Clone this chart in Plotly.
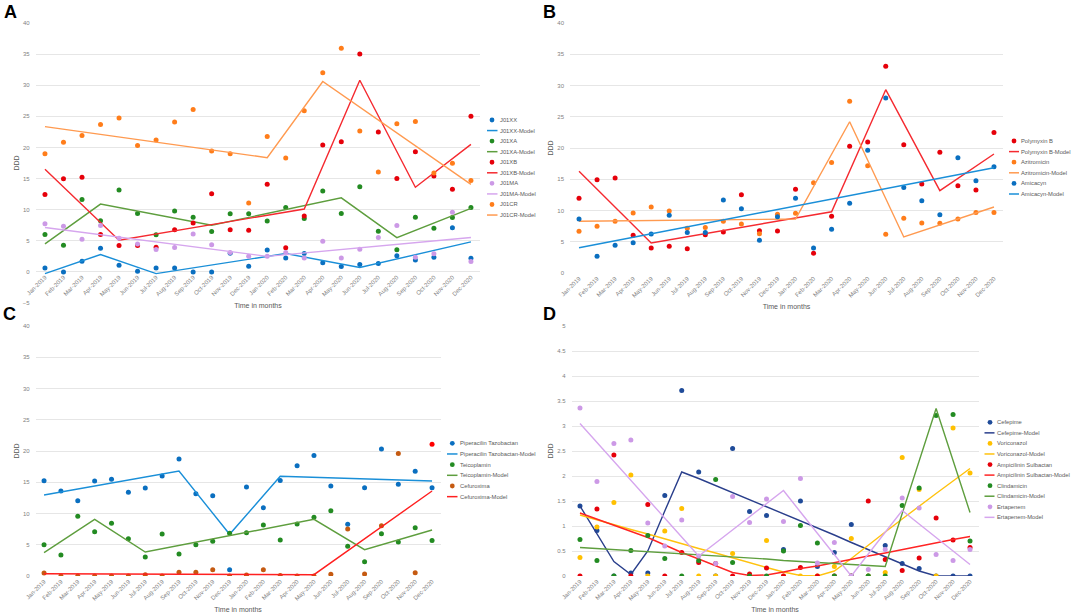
import plotly.graph_objects as go

W, H = 1072, 615
FONT = "Liberation Sans, Arial, sans-serif"

months = ["Jan-2019", "Feb-2019", "Mar-2019", "Apr-2019", "May-2019", "Jun-2019",
          "Jul-2019", "Aug-2019", "Sep-2019", "Oct-2019", "Nov-2019", "Dec-2019",
          "Jan-2020", "Feb-2020", "Mar-2020", "Apr-2020", "May-2020", "Jun-2020",
          "Jul-2020", "Aug-2020", "Sep-2020", "Oct-2020", "Nov-2020", "Dec-2020"]

# ---------------- Panel A ----------------
a_j01xx = [0.64, 0, 1.7, 3.8, 1.07, 0.1, 0.64, 0.64, 0, 0, 3.0, 0.9,
           3.5, 2.25, 2.95, 1.45, 0.86, 1.18, 1.34, 2.6, 1.93, 2.36, 7.1, 2.2]
a_j01xx_model_x = ["Jan-2019", "Apr-2019", "Jul-2019", "Feb-2020", "Jun-2020", "Dec-2020"]
a_j01xx_model_y = [-0.27, 2.8, -0.27, 2.95, 0.7, 4.83]

a_j01xa = [6.0, 4.3, 11.65, 8.2, 13.15, 9.4, 5.96, 9.8, 8.8, 6.5, 9.34, 9.34,
           8.16, 10.36, 8.6, 13.0, 9.4, 13.7, 6.55, 3.54, 8.8, 7.03, 8.75, 10.36]
a_j01xa_model_x = ["Jan-2019", "Apr-2019", "Oct-2019", "May-2020", "Aug-2020", "Dec-2020"]
a_j01xa_model_y = [4.5, 10.9, 7.5, 11.9, 5.5, 10.2]

a_j01xb = [12.45, 14.98, 15.2, 6.0, 4.24, 4.24, 3.97, 6.76, 7.84, 12.56, 6.76, 6.7,
           14.1, 3.86, 9.0, 20.4, 20.9, 35.0, 22.5, 15.0, 19.3, 15.4, 13.3, 25.0]
a_j01xb_model_x = ["Jan-2019", "May-2019", "Mar-2020", "Jun-2020", "Sep-2020", "Dec-2020"]
a_j01xb_model_y = [16.5, 5.1, 10.1, 30.8, 13.6, 20.5]

a_j01ma = [7.73, 7.35, 5.26, 7.46, 5.42, 4.5, 3.6, 3.9, 6.07, 4.35, 3.1, 2.5,
           2.5, 3.1, 2.25, 4.94, 2.25, 3.65, 5.53, 7.46, 2.36, 2.9, 9.6, 1.66]
a_j01ma_model_x = ["Jan-2019", "Jan-2020", "Dec-2020"]
a_j01ma_model_y = [7.14, 2.5, 5.53]

a_j01cr = [19.0, 20.83, 21.9, 23.7, 24.74, 20.3, 21.2, 24.1, 26.1, 19.43, 19.0, 11.06,
           21.74, 18.3, 25.9, 32.0, 35.96, 22.65, 16.05, 23.8, 24.15, 15.9, 17.45, 14.7]
a_j01cr_model_x = ["Jan-2019", "Jan-2020", "Apr-2020", "Dec-2020"]
a_j01cr_model_y = [23.35, 18.36, 30.6, 14.06]

# ---------------- Panel B ----------------
b_polymyxin = [11.95, 14.93, 15.2, 6.03, 4.0, 4.27, 3.9, 6.13, 6.56, 12.53, 6.77, 6.72,
               13.39, 3.15, 9.07, 20.27, 20.96, 33.07, 20.53, 14.24, 19.31, 13.97, 13.28, 22.5]
b_polymyxin_model_x = ["Jan-2019", "May-2019", "Mar-2020", "Jun-2020", "Sep-2020", "Dec-2020"]
b_polymyxin_model_y = [16.27, 4.8, 9.8, 29.33, 13.17, 19.04]

b_azitro = [6.7, 7.47, 8.27, 9.6, 10.56, 9.92, 7.15, 7.3, 8.27, 7.84, 6.3, 9.39,
            9.55, 14.45, 17.7, 27.47, 17.17, 6.19, 8.75, 8.0, 7.95, 8.64, 9.7, 9.7]
b_azitro_model_x = ["Jan-2019", "Jan-2020", "Apr-2020", "Jul-2020", "Dec-2020"]
b_azitro_model_y = [8.27, 8.64, 24.2, 5.76, 10.56]

b_amicacyn = [8.64, 2.67, 4.43, 4.85, 6.24, 9.23, 6.5, 6.5, 11.68, 10.29, 5.23, 9.01,
              11.95, 4.0, 6.99, 11.15, 19.63, 28.0, 13.7, 11.57, 9.33, 18.45, 14.77, 17.0]
b_amicacyn_model_x = ["Jan-2019", "Dec-2020"]
b_amicacyn_model_y = [4.05, 16.85]

# ---------------- Panel C ----------------
c_pip = [15.25, 13.6, 12.05, 15.2, 15.5, 13.4, 14.08, 16.0, 18.72, 13.17, 12.85, 1.0,
         14.24, 10.93, 15.3, 17.65, 19.3, 14.4, 8.27, 14.13, 20.32, 14.67, 16.75, 14.13]
c_pip_model_x = ["Jan-2019", "Sep-2019", "Dec-2019", "Mar-2020", "Dec-2020"]
c_pip_model_y = [12.96, 16.8, 6.67, 15.95, 15.2]

c_teic = [5.01, 3.36, 9.55, 7.09, 8.43, 5.97, 3.04, 6.72, 3.52, 5.01, 5.55, 6.83,
          6.93, 8.16, 5.76, 8.32, 9.39, 10.45, 4.75, 2.29, 6.77, 5.44, 7.73, 5.7]
c_teic_model_x = ["Jan-2019", "Apr-2019", "Jul-2019", "May-2020", "Aug-2020", "Dec-2020"]
c_teic_model_y = [3.73, 9.07, 3.84, 9.07, 4.21, 7.36]

c_cef = [0.48, 0, 0, 0, 0, 0, 0.2, 0, 0.59, 0.59, 1.0, 0,
         0.16, 1.0, 0.1, 0, 0, 0.27, 7.52, 0.32, 8.05, 19.6, 0.53, 21.07]
c_cef_model_x = ["Jan-2019", "May-2020", "Dec-2020"]
c_cef_model_y = [0.37, 0.21, 13.6]

# ---------------- Panel D ----------------
d_cefepime = [1.4, 0.91, 0, 0.06, 0.06, 1.61, 3.71, 2.08, 0, 2.55, 1.29, 1.21,
              0.53, 1.5, 0.19, 0.47, 1.03, 0, 0.61, 0.25, 0.15, 0, 0, 0]
d_cefepime_model = [1.4, 0.85, 0.29, 0.03, 0.5, 1.3, 2.08, 1.95, 1.81, 1.67, 1.53, 1.39,
                    1.25, 1.1, 0.96, 0.82, 0.67, 0.53, 0.39, 0.25, 0.1, 0, 0, 0]
d_vori = [0.37, 0.98, 1.47, 2.02, 0, 0.9, 1.35, 0, 0, 0.45, 0, 0.71,
          0, 0, 0, 0.19, 0.75, 0, 0.07, 2.37, 1.73, 0, 2.96, 2.06]
d_vori_model = [1.22, 1.12, 1.03, 0.93, 0.84, 0.74, 0.65, 0.55, 0.46, 0.36, 0.27, 0.17,
                0.08, 0.01, 0.0, 0.1, 0.35, 0.62, 0.88, 1.14, 1.4, 1.65, 1.9, 2.15]
d_ampi = [0, 1.34, 2.42, 0, 1.43, 0, 0.47, 0.27, 0.25, 0, 0.04, 0.16,
          0, 0.17, 0, 0, 0, 1.5, 0.33, 0.11, 0.36, 1.16, 0.72, 0.57]
d_ampi_model = [1.26, 1.14, 1.02, 0.9, 0.77, 0.62, 0.47, 0.34, 0.2, 0.07, 0.01, 0.02,
                0.08, 0.15, 0.2, 0.27, 0.33, 0.4, 0.46, 0.53, 0.6, 0.66, 0.73, 0.79]
d_clinda = [0.73, 0.31, 0, 0.51, 0.81, 0.35, 0, 0.31, 1.93, 0.27, 0, 0,
            0.5, 1.01, 0.66, 0, 0, 0, 0, 1.41, 1.76, 3.21, 3.23, 0.7]
d_clinda_model = [0.57, 0.55, 0.53, 0.51, 0.49, 0.47, 0.45, 0.42, 0.4, 0.38, 0.36, 0.34,
                  0.31, 0.29, 0.27, 0.25, 0.23, 0.21, 0.19, 1.25, 2.3, 3.35, 2.31, 1.27]
d_erta = [3.36, 1.89, 2.65, 2.72, 1.06, 0.6, 1.12, 0.4, 0.25, 1.59, 1.07, 1.54,
          1.09, 1.95, 0.26, 0.67, 0, 0.13, 0.53, 1.56, 1.36, 0.43, 0.31, 0.53]
d_erta_model = [3.05, 2.67, 2.29, 1.91, 1.54, 1.16, 0.78, 0.4, 0.66, 0.92, 1.19, 1.45,
                1.71, 1.28, 0.86, 0.43, 0, 0.44, 0.87, 1.31, 1.04, 0.77, 0.5, 0.23]

# ---------------- styles ----------------
BLUE_D, BLUE_L = "#0a6fc0", "#1a8fd8"
GREEN_D, GREEN_L = "#238b22", "#5e9e3e"
RED_D, RED_L = "#e6000a", "#f52a30"
PURP_D, PURP_L = "#cc99e6", "#d6a6ee"
ORNG_D, ORNG_L = "#ff7d1a", "#ff9a50"
BROWN_D = "#c55a11"
NAVY_D, NAVY_L = "#1f4b99", "#2a3f8c"
YEL_D, YEL_L = "#ffc000", "#ffc20e"

TICK_COL = "#7f7f7f"
TEXT_COL = "#595959"
GRID_COL = "#e6e6e6"


def px_x(p):
    return p / W


def px_y(p):
    return 1 - p / H


fig = go.Figure()


def dots(name, y, color, ax):
    fig.add_trace(go.Scatter(x=months, y=y, name=name, mode="markers",
                             marker=dict(size=5, color=color),
                             xaxis="x" + ax, yaxis="y" + ax, showlegend=False))


def model(name, x, y, color, ax):
    fig.add_trace(go.Scatter(x=x, y=y, name=name, mode="lines",
                             line=dict(color=color, width=1.4),
                             xaxis="x" + ax, yaxis="y" + ax, showlegend=False))


# A
legA = []
for nm, y, mx, my, cd, cl in [
        ("J01XX", a_j01xx, a_j01xx_model_x, a_j01xx_model_y, BLUE_D, BLUE_L),
        ("J01XA", a_j01xa, a_j01xa_model_x, a_j01xa_model_y, GREEN_D, GREEN_L),
        ("J01XB", a_j01xb, a_j01xb_model_x, a_j01xb_model_y, RED_D, RED_L),
        ("J01MA", a_j01ma, a_j01ma_model_x, a_j01ma_model_y, PURP_D, PURP_L),
        ("J01CR", a_j01cr, a_j01cr_model_x, a_j01cr_model_y, ORNG_D, ORNG_L)]:
    dots(nm, y, cd, "")
    model(nm + "-Model", mx, my, cl, "")
    legA += [(nm, "m", cd), (nm + "-Model", "l", cl)]

# B
legB = []
for nm, y, mx, my, cd, cl in [
        ("Polymyxin B", b_polymyxin, b_polymyxin_model_x, b_polymyxin_model_y, RED_D, RED_L),
        ("Azitromicin", b_azitro, b_azitro_model_x, b_azitro_model_y, ORNG_D, ORNG_L),
        ("Amicacyn", b_amicacyn, b_amicacyn_model_x, b_amicacyn_model_y, BLUE_D, BLUE_L)]:
    dots(nm, y, cd, "2")
    model(nm + "-Model", mx, my, cl, "2")
    legB += [(nm, "m", cd), (nm + "-Model", "l", cl)]

# C
cef_colors = [BROWN_D] * (len(c_cef) - 1) + ["#ff0000"]
legC = []
for nm, y, mx, my, cd, cl in [
        ("Piperacilin Tazobactan", c_pip, c_pip_model_x, c_pip_model_y, BLUE_D, BLUE_L),
        ("Teicoplamin", c_teic, c_teic_model_x, c_teic_model_y, GREEN_D, GREEN_L),
        ("Cefuroxima", c_cef, c_cef_model_x, c_cef_model_y, BROWN_D, "#ff2020")]:
    dots(nm, y, cef_colors if nm == "Cefuroxima" else cd, "3")
    model(nm + "-Model", mx, my, cl, "3")
    legC += [(nm, "m", cd), (nm + "-Model", "l", cl)]

# D
legD = []
for nm, y, my, cd, cl in [
        ("Cefepime", d_cefepime, d_cefepime_model, NAVY_D, NAVY_L),
        ("Voriconazol", d_vori, d_vori_model, YEL_D, YEL_L),
        ("Ampicilinin Sulbactan", d_ampi, d_ampi_model, RED_D, "#ff2424"),
        ("Clindamicin", d_clinda, d_clinda_model, GREEN_D, GREEN_L),
        ("Ertapenem", d_erta, d_erta_model, PURP_D, PURP_L)]:
    dots(nm, y, cd, "4")
    model(nm + "-Model", months, my, cl, "4")
    legD += [(nm, "m", cd), (nm + "-Model", "l", cl)]

# ---------------- axes ----------------
tickfont = dict(family=FONT, size=6, color=TICK_COL)
titlefont = dict(family=FONT, size=7, color=TEXT_COL)


def xax(x0, x1, anchor, position=None):
    d = dict(domain=[px_x(x0), px_x(x1)], type="category", categoryorder="array",
             categoryarray=months, tickmode="linear", dtick=1, tick0=0,
             tickangle=-45, tickfont=tickfont, showgrid=False, zeroline=False,
             showline=False, ticks="", range=[-0.5, 23.5], automargin=False,
             title=dict(text="Time in months", font=titlefont, standoff=6))
    if position is None:
        d["anchor"] = anchor
    else:
        d["anchor"] = "free"
        d["position"] = position
    return d


def yax(ytop, ybot, rng, dtick, anchor):
    return dict(domain=[px_y(ybot), px_y(ytop)], range=rng, dtick=dtick,
                tickfont=tickfont, showgrid=True, gridcolor=GRID_COL, gridwidth=1,
                zeroline=False, showline=False, ticks="", anchor=anchor,
                ticklabelstandoff=5, automargin=False,
                title=dict(text="DDD", font=titlefont, standoff=2))


A_TOP, A_BOT = 23, 303
a_zero_px = A_BOT - 5 * (A_BOT - A_TOP) / 45.0

fig.update_layout(
    width=W, height=H, margin=dict(l=0, r=0, t=0, b=0, pad=0, autoexpand=False),
    paper_bgcolor="white", plot_bgcolor="white",
    font=dict(family=FONT, color=TEXT_COL),
    xaxis=xax(35.7, 480.2, "y", position=px_y(a_zero_px)),
    yaxis=yax(A_TOP, A_BOT, [-5, 40], 5, "x"),
    xaxis2=xax(570, 1003, "y2"),
    yaxis2=yax(23, 273, [0, 40], 5, "x2"),
    xaxis3=xax(35.6, 440.5, "y3"),
    yaxis3=yax(326, 576, [0, 40], 5, "x3"),
    xaxis4=xax(571.5, 978.5, "y4"),
    yaxis4=yax(326, 576, [0, 5], 0.5, "x4"),
    showlegend=False,
)

# ---------------- legends (compact, Excel-like) ----------------
shapes, annotations = [], []


def legend(entries, xm, xt, lx0, lx1, y0, step):
    for i, (name, kind, color) in enumerate(entries):
        yc = y0 + i * step
        if kind == "m":
            r = 2.4
            shapes.append(dict(type="circle", xref="paper", yref="paper",
                               x0=px_x(xm - r), x1=px_x(xm + r),
                               y0=px_y(yc + r), y1=px_y(yc - r),
                               fillcolor=color, line=dict(width=0)))
        else:
            shapes.append(dict(type="line", xref="paper", yref="paper",
                               x0=px_x(lx0), x1=px_x(lx1), y0=px_y(yc), y1=px_y(yc),
                               line=dict(color=color, width=1.5)))
        annotations.append(dict(text=name, xref="paper", yref="paper",
                                x=px_x(xt), y=px_y(yc), xanchor="left", yanchor="middle",
                                showarrow=False,
                                font=dict(family=FONT, size=5.8, color=TEXT_COL)))


legend(legA, 492, 498, 487, 497.5, 120, 10.56)
legend(legB, 1014, 1019, 1009, 1019, 141, 10.6)
legend(legC, 452.3, 457.5, 447, 457.5, 443.3, 10.67)
legend(legD, 990, 994.5, 984.5, 994.5, 422.3, 10.56)

for letter, xp, yp in [("A", 2, 12.5), ("B", 541, 12.5), ("C", 1, 314), ("D", 541, 314)]:
    annotations.append(dict(text="<b>%s</b>" % letter, xref="paper", yref="paper",
                            x=px_x(xp), y=px_y(yp), xanchor="left", yanchor="middle",
                            showarrow=False,
                            font=dict(family=FONT, size=18, color="black")))

fig.update_layout(shapes=shapes, annotations=annotations)

fig.write_html("out.html",
               config={"displayModeBar": False},
               post_script="document.body.style.margin='0';document.body.style.overflow='hidden';")
